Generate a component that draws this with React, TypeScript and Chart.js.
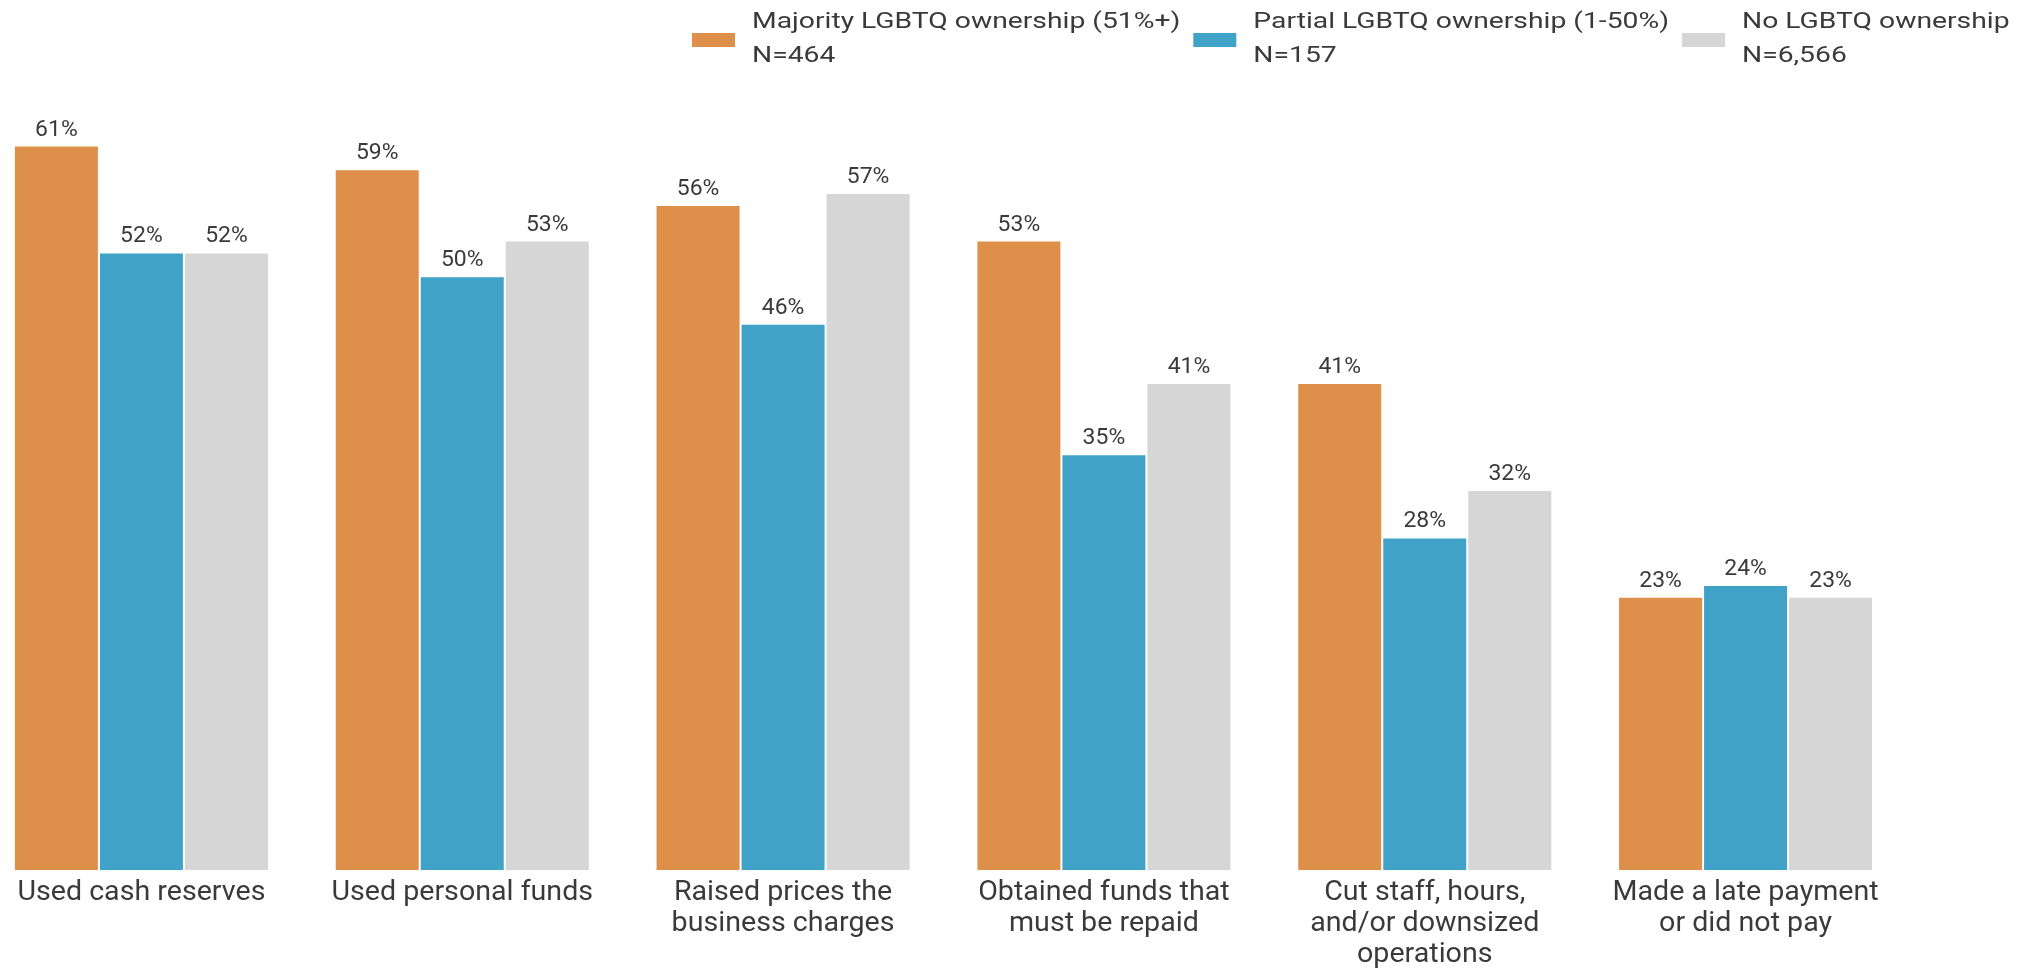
import React, { useEffect, useRef } from "react";
import { Chart, registerables } from "chart.js";

Chart.register(...registerables);

const categories: (string | string[])[] = [
  "Used cash reserves",
  "Used personal funds",
  ["Raised prices the", "business charges"],
  ["Obtained funds that", "must be repaid"],
  ["Cut staff, hours,", "and/or downsized", "operations"],
  ["Made a late payment", "or did not pay"],
];
const majorityValues = [61, 59, 56, 53, 41, 23];
const partialValues = [52, 50, 46, 35, 28, 24];
const noneValues = [52, 53, 57, 41, 32, 23];
const seriesNames = [
  "Majority LGBTQ ownership (51%+)",
  "Partial LGBTQ ownership (1-50%)",
  "No LGBTQ ownership",
];
const seriesCounts = ["N=464", "N=157", "N=6,566"];

const COLORS = ["#DE904B", "#41A2C7", "#D6D6D6"];
const TEXT = "#3a3a3a";
const FONT = "Roboto";
const SHIFT = 19; // canvas starts 19px left of the page edge

function stretchText(ctx: any, text: string, x: number, y: number, sx: number) {
  ctx.save();
  ctx.translate(x, y);
  ctx.scale(sx, 1);
  ctx.fillText(text, 0, 0);
  ctx.restore();
}

const dataLabelPlugin = {
  id: "dataLabels",
  afterDatasetsDraw(chart: any) {
    const ctx = chart.ctx;
    ctx.save();
    ctx.font = `22.5px ${FONT}`;
    ctx.fillStyle = TEXT;
    ctx.textAlign = "center";
    ctx.textBaseline = "alphabetic";
    chart.data.datasets.forEach((ds: any, i: number) => {
      const meta = chart.getDatasetMeta(i);
      meta.data.forEach((el: any, j: number) => {
        stretchText(ctx, `${ds.data[j]}%`, el.x, el.y - 10, 1.02);
      });
    });
    ctx.restore();
  },
};

const axisLabelPlugin = {
  id: "axisLabels",
  afterDraw(chart: any) {
    const ctx = chart.ctx;
    const xs = chart.scales.x;
    const base = chart.chartArea.bottom + 30;
    ctx.save();
    ctx.font = `27px ${FONT}`;
    ctx.fillStyle = TEXT;
    ctx.textAlign = "center";
    ctx.textBaseline = "alphabetic";
    chart.data.labels.forEach((lab: any, i: number) => {
      const lines = Array.isArray(lab) ? lab : [lab];
      const x = xs.getPixelForTick(i);
      lines.forEach((t: string, k: number) => stretchText(ctx, t, x, base + k * 31, 1.06));
    });
    ctx.restore();
  },
};

const legendPlugin = {
  id: "customLegend",
  afterDraw(chart: any) {
    const ctx = chart.ctx;
    const sx = 1.285;
    ctx.save();
    ctx.font = `22px ${FONT}`;
    ctx.textAlign = "left";
    ctx.textBaseline = "alphabetic";
    let x = 692 + SHIFT;
    chart.data.datasets.forEach((ds: any, i: number) => {
      ctx.fillStyle = ds.backgroundColor;
      ctx.fillRect(x, 33, 43, 14);
      ctx.fillStyle = TEXT;
      const tx = x + 60;
      stretchText(ctx, seriesNames[i], tx, 28, sx);
      stretchText(ctx, seriesCounts[i], tx, 61.5, sx);
      const w = sx * Math.max(ctx.measureText(seriesNames[i]).width, ctx.measureText(seriesCounts[i]).width);
      x = tx + w + 13;
    });
    ctx.restore();
  },
};

export default function App() {
  const ref = useRef<HTMLCanvasElement>(null);
  useEffect(() => {
    if (!ref.current) return;
    const chart = new Chart(ref.current, {
      type: "bar",
      data: {
        labels: categories as any,
        datasets: [majorityValues, partialValues, noneValues].map((d, i) => ({
          label: seriesNames[i],
          data: d,
          backgroundColor: COLORS[i],
          borderColor: "rgba(255,255,255,0.45)",
          borderWidth: 1,
          categoryPercentage: 0.795,
          barPercentage: 1,
        })),
      },
      options: {
        animation: false,
        responsive: false,
        maintainAspectRatio: false,
        layout: { padding: { top: 98, right: 128, bottom: 98, left: 0 } },
        plugins: { legend: { display: false }, tooltip: { enabled: false } },
        scales: {
          x: {
            grid: { display: false, drawTicks: false },
            border: { display: false },
            ticks: { display: false, autoSkip: false },
          },
          y: { display: false, min: 0, max: 65 },
        },
      },
      plugins: [dataLabelPlugin, axisLabelPlugin, legendPlugin],
    });
    return () => chart.destroy();
  }, []);
  return (
    <div style={{ position: "absolute", left: 0, top: 0, width: 2034, height: 968, overflow: "hidden", background: "#fff" }}>
      <canvas
        ref={ref}
        width={2034 + SHIFT}
        height={968}
        style={{ position: "absolute", left: -SHIFT, top: 0, width: 2034 + SHIFT, height: 968 }}
      />
    </div>
  );
}
